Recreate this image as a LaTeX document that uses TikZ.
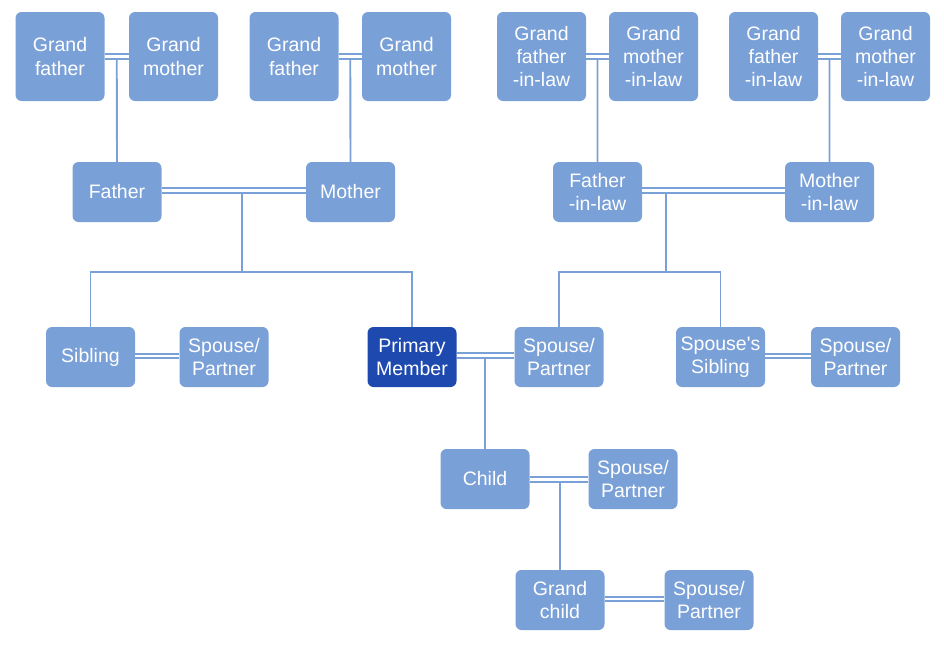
\documentclass[tikz,border=0pt]{standalone}
\usepackage{fontspec}
\newfontfamily\boxfont{Liberation Sans}
\usetikzlibrary{calc}
\definecolor{boxblue}{RGB}{122,160,216}
\definecolor{mainblue}{RGB}{30,74,175}
\tikzset{
  person/.style={fill=boxblue, text=white, rounded corners=6pt,
    minimum width=89pt, minimum height=60pt, align=center, inner sep=0pt,
    font=\boxfont\fontsize{19.5}{23.3}\selectfont},
  elder/.style={person, minimum height=89pt},
  link/.style={draw=boxblue, line width=1.9pt},
  marry/.style={draw=boxblue, line width=1.8pt, double=white, double distance=2.6pt},
}

\begin{document}
\begin{tikzpicture}[x=1pt,y=-1pt]
    \useasboundingbox (0,0) rectangle (944,645);

    % 祖辈
    \node[elder] (gfa) at (60,56.5) {Grand\\father};
    \node[elder] (gma) at (173.5,56.5) {Grand\\mother};
    \node[elder] (gfb) at (294,56.5) {Grand\\father};
    \node[elder] (gmb) at (406.5,56.5) {Grand\\mother};
    \node[elder] (gfc) at (541.5,56.5) {Grand\\father\\-in-law};
    \node[elder] (gmc) at (653.5,56.5) {Grand\\mother\\-in-law};
    \node[elder] (gfd) at (773.5,56.5) {Grand\\father\\-in-law};
    \node[elder] (gmd) at (885.5,56.5) {Grand\\mother\\-in-law};

    % 父母辈
    \node[person] (father) at (117,192) {Father};
    \node[person] (mother) at (350.5,192) {Mother};
    \node[person] (fil) at (597.5,192) {Father\\-in-law};
    \node[person] (mil) at (829.5,192) {Mother\\-in-law};

    % 本人这一辈
    \node[person] (sibling) at (90.5,357) {Sibling};
    \node[person] (sibsp) at (224,357) {Spouse/\\Partner};
    \node[person, fill=mainblue] (primary) at (412,357) {Primary\\Member};
    \node[person] (spouse) at (559,357) {Spouse/\\Partner};
    \node[person] (spsib) at (720.5,357) {Spouse's\\Sibling};
    \node[person] (spsibsp) at (855.5,357) {Spouse/\\Partner};

    % 子孙
    \node[person] (child) at (485,479) {Child};
    \node[person] (childsp) at (633,479) {Spouse/\\Partner};
    \node[person] (gchild) at (560,600) {Grand\\child};
    \node[person] (gchildsp) at (709,600) {Spouse/\\Partner};

    % 婚姻: 双线
    \draw[marry] (gfa) -- (gma);
    \draw[marry] (gfb) -- (gmb);
    \draw[marry] (gfc) -- (gmc);
    \draw[marry] (gfd) -- (gmd);
    \draw[marry] (father.east |- 0,190.5) -- (mother.west |- 0,190.5);
    \draw[marry] (fil.east |- 0,190.5) -- (mil.west |- 0,190.5);
    \draw[marry] (sibling.east |- 0,356) -- (sibsp.west |- 0,356);
    \draw[marry] (primary.east |- 0,355.5) -- (spouse.west |- 0,355.5);
    \draw[marry] (spsib.east |- 0,356) -- (spsibsp.west |- 0,356);
    \draw[marry] (child.east |- 0,479.5) -- (childsp.west |- 0,479.5);
    \draw[marry] (gchild.east |- 0,599) -- (gchildsp.west |- 0,599);

    % 亲子: 单线
    \draw[link] ($(gfa.east)!.5!(gma.west)+(0,2.5)$) -- (father.north);
    \draw[link] ($(gfb.east)!.5!(gmb.west)+(0,2.5)$) -- (mother.north);
    \draw[link] ($(gfc.east)!.5!(gmc.west)+(0,2.5)$) -- (fil.north);
    \draw[link] ($(gfd.east)!.5!(gmd.west)+(0,2.5)$) -- (mil.north);

    \coordinate (famA) at (242,272);
    \coordinate (famB) at (666,272);
    \draw[link] (famA |- 0,193) -- (famA);
    \draw[link] (sibling.north) |- (famA) -| (primary.north);
    \draw[link] (famB |- 0,193) -- (famB);
    \draw[link] (spouse.north) |- (famB) -| (spsib.north);

    \draw[link] (child.north |- 0,358) -- (child.north);
    \draw[link] (gchild.north |- 0,482) -- (gchild.north);
\end{tikzpicture}
\end{document}
